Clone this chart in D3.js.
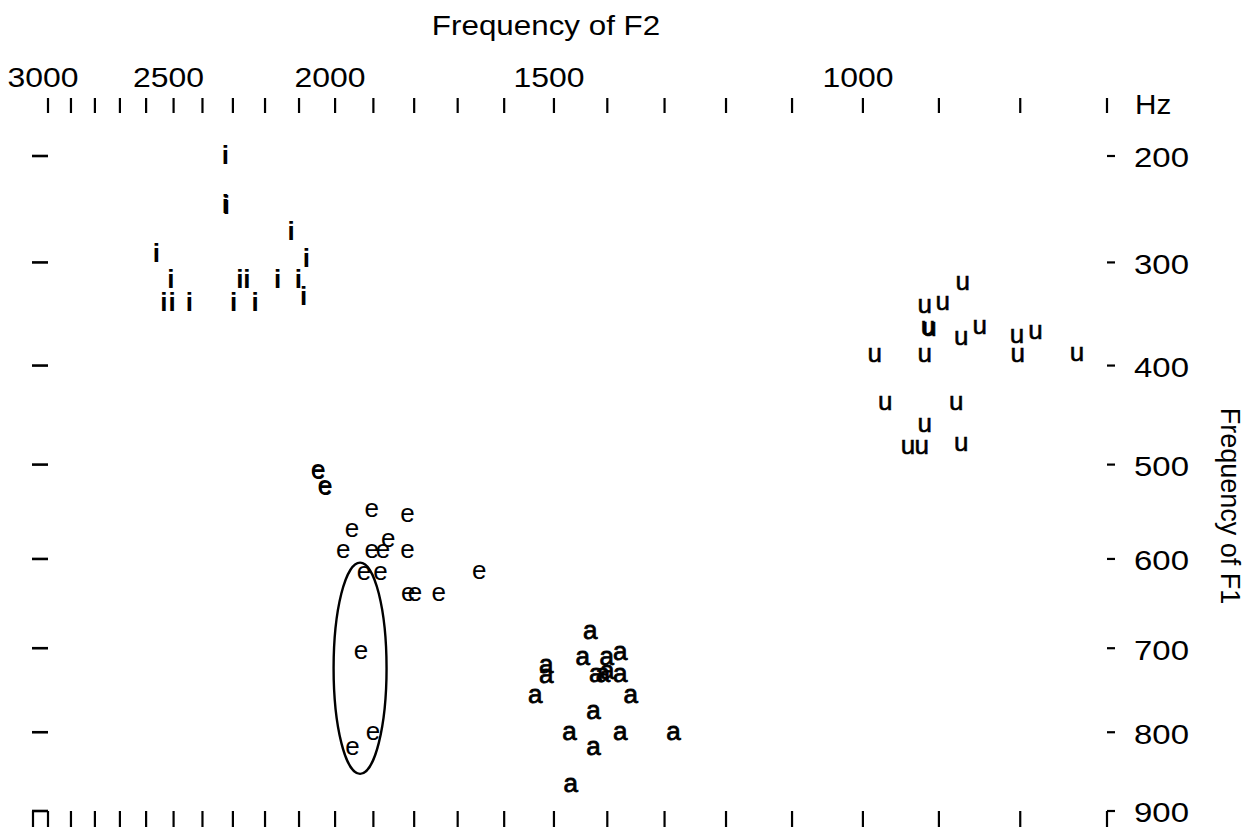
<!DOCTYPE html>
<html>
<head>
<meta charset="utf-8">
<script src="https://cdn.jsdelivr.net/npm/d3@7/dist/d3.min.js"></script>
<style>
    body { margin: 0; background: #fff; }
    svg { display: block; }
    text { font-family: "Liberation Sans", Arial, sans-serif; fill: #000; }
</style>
</head>
<body>
<script>
// vowel chart: F2 runs right-to-left along the top, F1 runs down the right side,
// both axes are on a Bark scale (Zwicker)

// [F2 Hz, F1 Hz] for each token
var iTokens = [[2324,201],[2324,247],[2321,248],[2123,272],[2562,293],[2079,298],
    [2510,318],[2278,318],[2256,318],[2162,318],[2102,318],
    [2535,340],[2505,340],[2445,340],[2298,340],[2230,340],[2087,334]];

var eTokens = [[2047,507],[2045,508],[2028,523],[2026,524],[1904,548],[1816,553],
    [1955,569],[1978,591],[1904,591],[1876,591],[1863,580],[1816,591],
    [1924,616],[1882,616],[1653,614],[1814,639],[1798,639],[1743,639],
    [1932,705],[1901,801],[1954,820]];

var aTokens = [[1431,682],[1445,712],[1401,712],[1377,706],[1515,721],[1515,733],
    [1420,731],[1408,731],[1400,728],[1377,731],[1537,756],[1358,756],
    [1425,775],[1470,801],[1377,801],[1285,801],[1425,820],[1468,867]];

var uTokens = [[870,320],[918,342],[895,339],[914,363],[912,364],[872,373],
    [849,362],[804,371],[782,367],[984,390],[918,390],[803,390],[734,389],
    [970,437],[878,437],[918,460],[940,482],[922,482],[872,479]];

// ring drawn round the three circled [e] tokens: F2 edges, F1 edges
var ringF2 = [2004, 1867];
var ringF1 = [604, 852];

var f2Ticks = d3.range(3000, 600, -100);
var f2Labels = [3000, 2500, 2000, 1500, 1000];
var f1Ticks = [200, 300, 400, 500, 600, 700, 800, 900];

function bark(f) {
    return 13 * Math.atan(0.00076 * f) + 3.5 * Math.atan(Math.pow(f / 7500, 2));
}

var x = d3.scaleLinear().domain([bark(3000), bark(700)]).range([48, 1107]);
var y = d3.scaleLinear().domain([bark(200), bark(900)]).range([156, 811]);
var fx = function(f) { return x(bark(f)); };
var fy = function(f) { return y(bark(f)); };

var svg = d3.select('body').append('svg').attr('width', 1247).attr('height', 827);

// top F2 ticks and labels
svg.selectAll('.topTick').data(f2Ticks).enter().append('line')
    .attr('class', 'topTick')
    .attr('x1', fx).attr('x2', fx)
    .attr('y1', 98).attr('y2', 113)
    .style('stroke', '#000').attr('stroke-width', 2.2);

svg.selectAll('.topLabel').data(f2Labels).enter().append('text')
    .attr('class', 'topLabel')
    .attr('transform', function(d) { return 'translate(' + (fx(d) - 5) + ',87) scale(1.14,1)'; })
    .attr('text-anchor', 'middle')
    .style('font-size', '28px')
    .text(function(d) { return d; });

svg.append('text')
    .attr('transform', 'translate(1135,104) scale(1.1,1)')
    .attr('dominant-baseline', 'central')
    .style('font-size', '27px')
    .text('Hz');

svg.append('text')
    .attr('transform', 'translate(546,35) scale(1.12,1)')
    .attr('text-anchor', 'middle')
    .style('font-size', '28px')
    .text('Frequency of F2');

// bottom F2 ticks, they hang from the 900 Hz line
svg.selectAll('.bottomTick').data(f2Ticks).enter().append('line')
    .attr('class', 'bottomTick')
    .attr('x1', fx).attr('x2', fx)
    .attr('y1', fy(900)).attr('y2', 827)
    .style('stroke', '#000').attr('stroke-width', 2.2);

svg.append('line')
    .attr('x1', 33).attr('x2', 33).attr('y1', fy(900)).attr('y2', 827)
    .style('stroke', '#000').attr('stroke-width', 2.2);

// F1 dashes on both sides, labels on the right
svg.selectAll('.leftDash').data(f1Ticks).enter().append('line')
    .attr('class', 'leftDash')
    .attr('x1', 32).attr('x2', 48)
    .attr('y1', fy).attr('y2', fy)
    .style('stroke', '#000').attr('stroke-width', 2.6);

svg.selectAll('.rightDash').data(f1Ticks).enter().append('line')
    .attr('class', 'rightDash')
    .attr('x1', fx(700)).attr('x2', fx(700) + 8)
    .attr('y1', fy).attr('y2', fy)
    .style('stroke', '#000').attr('stroke-width', 2.2);

svg.selectAll('.rightLabel').data(f1Ticks).enter().append('text')
    .attr('class', 'rightLabel')
    .attr('transform', function(d) { return 'translate(1134,' + (fy(d) + 2) + ') scale(1.22,1)'; })
    .attr('dominant-baseline', 'central')
    .style('font-size', '27px')
    .text(function(d) { return d; });

svg.append('text')
    .attr('transform', 'translate(1221,506) rotate(90)')
    .attr('text-anchor', 'middle')
    .style('font-size', '27px')
    .text('Frequency of F1');

// the ring
svg.append('ellipse')
    .attr('cx', (fx(ringF2[0]) + fx(ringF2[1])) / 2)
    .attr('cy', (fy(ringF1[0]) + fy(ringF1[1])) / 2)
    .attr('rx', Math.abs(fx(ringF2[1]) - fx(ringF2[0])) / 2)
    .attr('ry', Math.abs(fy(ringF1[1]) - fy(ringF1[0])) / 2)
    .style('fill', 'none').style('stroke', '#000').attr('stroke-width', 2.4);

// vowel tokens
var regular = '"Liberation Sans", Arial, sans-serif';
var narrow = '"Liberation Sans Narrow", "Arial Narrow", sans-serif';
var groups = [
    { sym: 'i', data: iTokens, font: regular, weight: 'bold', stroke: 0 },
    { sym: 'e', data: eTokens, font: regular, weight: 'normal', stroke: 0 },
    { sym: 'a', data: aTokens, font: narrow, weight: 'normal', stroke: 0.8 },
    { sym: 'u', data: uTokens, font: narrow, weight: 'normal', stroke: 0.55 }
];

groups.forEach(function(g) {
    svg.selectAll('.tok-' + g.sym).data(g.data).enter().append('text')
        .attr('class', 'tok-' + g.sym)
        .attr('x', function(d) { return fx(d[0]); })
        .attr('y', function(d) { return fy(d[1]); })
        .attr('text-anchor', 'middle')
        .attr('dominant-baseline', 'middle')
        .style('font-size', '26px')
        .style('font-family', g.font)
        .style('font-weight', g.weight)
        .style('stroke', g.stroke ? '#000' : 'none')
        .style('stroke-width', g.stroke)
        .text(g.sym);
});
</script>
</body>
</html>
